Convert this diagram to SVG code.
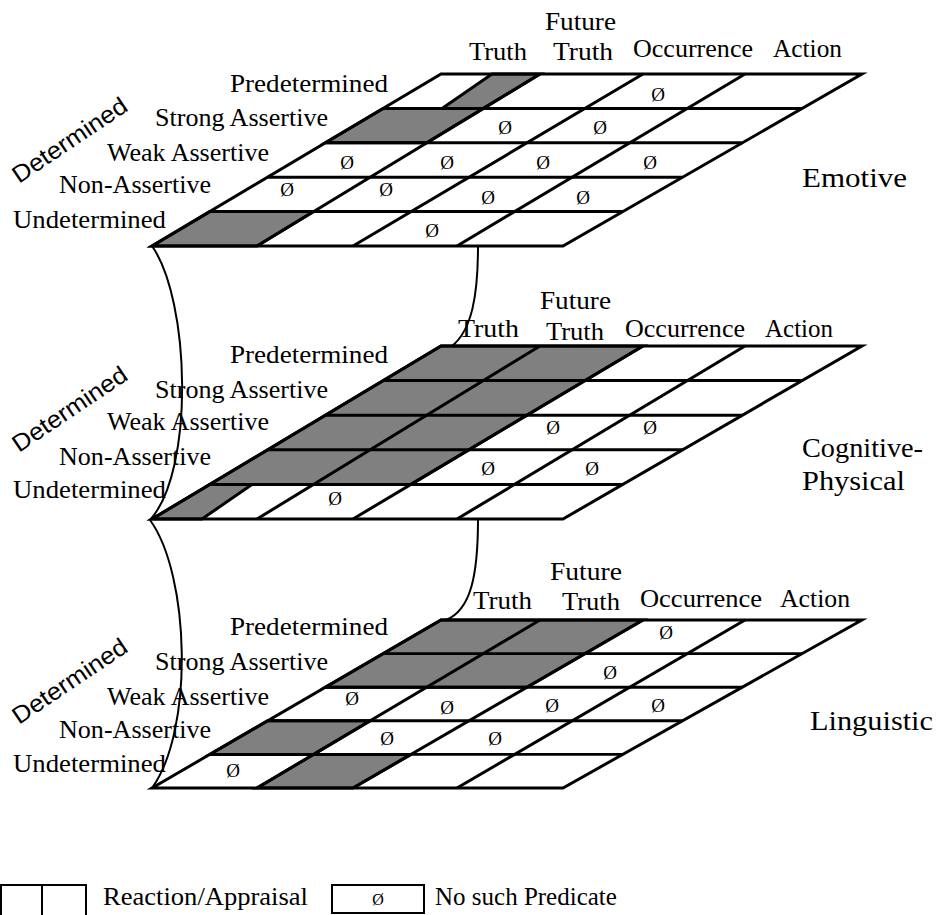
<svg xmlns="http://www.w3.org/2000/svg" xmlns:xlink="http://www.w3.org/1999/xlink" width="936" height="915" viewBox="0 0 936 915">
<style>
.gl{stroke:#000;stroke-width:3;fill:none;vector-effect:non-scaling-stroke}
.shade{fill:#808080;stroke:#000;stroke-width:3;stroke-linejoin:miter;vector-effect:non-scaling-stroke}
.lbl{font-family:"Liberation Serif","DejaVu Serif",serif;font-size:25px;fill:#000}
.big{font-size:28px}
.det{font-family:"Liberation Sans",Arial,sans-serif;font-size:24px;fill:#000}
.nul{font-family:"Liberation Serif","DejaVu Serif",serif;font-size:19px;fill:#000;text-anchor:middle}
.conn{fill:none;stroke:#000;stroke-width:2}
.box{fill:#fff;stroke:#000;stroke-width:2}
</style>
<defs>
<g id="gridlines" class="gl">
<polygon points="441,0 862,0 563,172 152,172"/>
<line x1="383.2" y1="34.4" x2="802.2" y2="34.4"/>
<line x1="325.4" y1="68.8" x2="742.4" y2="68.8"/>
<line x1="267.6" y1="103.2" x2="682.6" y2="103.2"/>
<line x1="209.8" y1="137.6" x2="622.8" y2="137.6"/>
<line x1="540" y1="0" x2="257" y2="172"/>
<line x1="643" y1="0" x2="353" y2="172"/>
<line x1="745" y1="0" x2="457" y2="172"/>
</g>
</defs>

<rect x="0" y="0" width="936" height="915" fill="#fff"/>

<g id="connectors">
<path class="conn" d="M152,246 C190,300 195,470 150,520"/>
<path class="conn" d="M150,520 C190,575 194,730 152,788"/>
<path class="conn" d="M478,246 C478,295 472,330 452,346"/>
<path class="conn" d="M478,519 C478,575 471,610 446,620"/>
</g>

<g id="emotive">
<g transform="translate(0,74)">
<polygon class="shade" points="492,0 540,0 483.4,34.4 442,34.4"/>
<polygon class="shade" points="383.2,34.4 483.4,34.4 426.8,68.8 325.4,68.8"/>
<polygon class="shade" points="209.8,137.6 313.6,137.6 257,172 152,172"/>
<use xlink:href="#gridlines"/>
</g>
<text class="lbl" x="545" y="30" textLength="71" lengthAdjust="spacingAndGlyphs">Future</text>
<text class="lbl" x="469" y="60" textLength="58" lengthAdjust="spacingAndGlyphs">Truth</text>
<text class="lbl" x="553" y="60" textLength="60" lengthAdjust="spacingAndGlyphs">Truth</text>
<text class="lbl" x="633" y="57" textLength="120" lengthAdjust="spacingAndGlyphs">Occurrence</text>
<text class="lbl" x="773" y="57" textLength="69" lengthAdjust="spacingAndGlyphs">Action</text>
<text class="lbl" x="230" y="92" textLength="158" lengthAdjust="spacingAndGlyphs">Predetermined</text>
<text class="lbl" x="155" y="126" textLength="173" lengthAdjust="spacingAndGlyphs">Strong Assertive</text>
<text class="lbl" x="107" y="161" textLength="162" lengthAdjust="spacingAndGlyphs">Weak Assertive</text>
<text class="lbl" x="59" y="193" textLength="152" lengthAdjust="spacingAndGlyphs">Non-Assertive</text>
<text class="lbl" x="13" y="228" textLength="153" lengthAdjust="spacingAndGlyphs">Undetermined</text>
<text class="det" transform="translate(19,184) rotate(-34)" textLength="133" lengthAdjust="spacingAndGlyphs">Determined</text>
<text class="lbl big" x="802" y="187" textLength="105" lengthAdjust="spacingAndGlyphs">Emotive</text>
<text class="nul" x="658" y="101">Ø</text>
<text class="nul" x="505" y="134">Ø</text>
<text class="nul" x="600" y="134">Ø</text>
<text class="nul" x="347" y="169">Ø</text>
<text class="nul" x="447" y="169">Ø</text>
<text class="nul" x="543" y="169">Ø</text>
<text class="nul" x="650" y="169">Ø</text>
<text class="nul" x="287" y="196">Ø</text>
<text class="nul" x="386" y="196">Ø</text>
<text class="nul" x="488" y="204">Ø</text>
<text class="nul" x="583" y="204">Ø</text>
<text class="nul" x="432" y="237">Ø</text>
</g>

<g id="cognitive-physical">
<g transform="translate(0,346) scale(1,1.0058)">
<polygon class="shade" points="441,0 643,0 411,137.6 209.8,137.6"/>
<polygon class="shade" points="209.8,137.6 252,137.6 202,172 152,172"/>
<use xlink:href="#gridlines"/>
</g>
<text class="lbl" x="540" y="309" textLength="71" lengthAdjust="spacingAndGlyphs">Future</text>
<text class="lbl" x="458" y="337" textLength="61" lengthAdjust="spacingAndGlyphs">Truth</text>
<text class="lbl" x="546" y="340" textLength="58" lengthAdjust="spacingAndGlyphs">Truth</text>
<text class="lbl" x="625" y="337" textLength="120" lengthAdjust="spacingAndGlyphs">Occurrence</text>
<text class="lbl" x="765" y="337" textLength="68" lengthAdjust="spacingAndGlyphs">Action</text>
<text class="lbl" x="230" y="363" textLength="158" lengthAdjust="spacingAndGlyphs">Predetermined</text>
<text class="lbl" x="155" y="398" textLength="173" lengthAdjust="spacingAndGlyphs">Strong Assertive</text>
<text class="lbl" x="107" y="430" textLength="162" lengthAdjust="spacingAndGlyphs">Weak Assertive</text>
<text class="lbl" x="59" y="465" textLength="152" lengthAdjust="spacingAndGlyphs">Non-Assertive</text>
<text class="lbl" x="13" y="498" textLength="153" lengthAdjust="spacingAndGlyphs">Undetermined</text>
<text class="det" transform="translate(19,453) rotate(-34)" textLength="133" lengthAdjust="spacingAndGlyphs">Determined</text>
<text class="lbl big" x="802" y="457" textLength="121" lengthAdjust="spacingAndGlyphs">Cognitive-</text>
<text class="lbl big" x="802" y="490" textLength="103" lengthAdjust="spacingAndGlyphs">Physical</text>
<text class="nul" x="553" y="434">Ø</text>
<text class="nul" x="650" y="434">Ø</text>
<text class="nul" x="488" y="475">Ø</text>
<text class="nul" x="592" y="475">Ø</text>
<text class="nul" x="335" y="505">Ø</text>
</g>

<g id="linguistic">
<g transform="translate(0,620) scale(1,0.9767)">
<polygon class="shade" points="441,0 643,0 527,68.8 325.4,68.8"/>
<polygon class="shade" points="267.6,103.2 370.2,103.2 313.6,137.6 209.8,137.6"/>
<polygon class="shade" points="313.6,137.6 411,137.6 353,172 257,172"/>
<use xlink:href="#gridlines"/>
</g>
<text class="lbl" x="550" y="580" textLength="72" lengthAdjust="spacingAndGlyphs">Future</text>
<text class="lbl" x="473" y="609" textLength="59" lengthAdjust="spacingAndGlyphs">Truth</text>
<text class="lbl" x="562" y="610" textLength="58" lengthAdjust="spacingAndGlyphs">Truth</text>
<text class="lbl" x="640" y="607" textLength="122" lengthAdjust="spacingAndGlyphs">Occurrence</text>
<text class="lbl" x="780" y="607" textLength="70" lengthAdjust="spacingAndGlyphs">Action</text>
<text class="lbl" x="230" y="635" textLength="158" lengthAdjust="spacingAndGlyphs">Predetermined</text>
<text class="lbl" x="155" y="670" textLength="173" lengthAdjust="spacingAndGlyphs">Strong Assertive</text>
<text class="lbl" x="107" y="705" textLength="162" lengthAdjust="spacingAndGlyphs">Weak Assertive</text>
<text class="lbl" x="59" y="738" textLength="152" lengthAdjust="spacingAndGlyphs">Non-Assertive</text>
<text class="lbl" x="13" y="772" textLength="153" lengthAdjust="spacingAndGlyphs">Undetermined</text>
<text class="det" transform="translate(19,725) rotate(-34)" textLength="133" lengthAdjust="spacingAndGlyphs">Determined</text>
<text class="lbl big" x="810" y="730" textLength="123" lengthAdjust="spacingAndGlyphs">Linguistic</text>
<text class="nul" x="666" y="639">Ø</text>
<text class="nul" x="610" y="679">Ø</text>
<text class="nul" x="352" y="705">Ø</text>
<text class="nul" x="447" y="714">Ø</text>
<text class="nul" x="552" y="712">Ø</text>
<text class="nul" x="658" y="712">Ø</text>
<text class="nul" x="387" y="745">Ø</text>
<text class="nul" x="495" y="745">Ø</text>
<text class="nul" x="233" y="777">Ø</text>
</g>

<g id="legend">
<rect class="box" x="1" y="885" width="85" height="34"/>
<line x1="42" y1="885" x2="42" y2="919" stroke="#000" stroke-width="2"/>
<text class="lbl" x="103" y="905" textLength="205" lengthAdjust="spacingAndGlyphs">Reaction/Appraisal</text>
<rect class="box" x="332" y="885" width="92" height="28"/>
<text class="nul" x="378" y="905" style="font-size:16px">Ø</text>
<text class="lbl" x="435" y="905">No such Predicate</text>
</g>
</svg>
